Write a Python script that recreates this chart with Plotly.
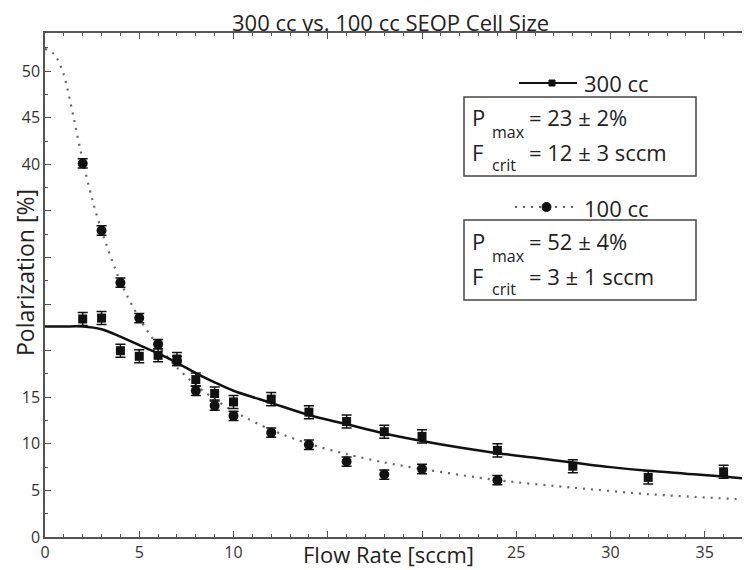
import plotly.graph_objects as go

# ---------------- data ----------------
flow_300 = [2, 3, 4, 5, 6, 7, 8, 9, 10, 12, 14, 16, 18, 20, 24, 28, 32, 36]
pol_300 = [23.4, 23.5, 20.0, 19.4, 19.5, 19.1, 16.9, 15.4, 14.5, 14.8, 13.4, 12.4, 11.3, 10.8, 9.3, 7.6, 6.4, 7.0]
err_300 = [0.7] * len(flow_300)

flow_100 = [2, 3, 4, 5, 6, 7, 8, 9, 10, 12, 14, 16, 18, 20, 24]
pol_100 = [40.1, 32.9, 27.3, 23.5, 20.7, 18.9, 15.7, 14.1, 13.0, 11.2, 9.9, 8.1, 6.7, 7.3, 6.1]
err_100 = [0.5] * len(flow_100)

fit_x_300 = [0, 1, 2, 3, 4, 5, 6, 7, 8, 9, 10, 12, 14, 16, 18, 20, 22, 24, 26, 28, 30, 32, 34, 36, 37.4]
fit_y_300 = [22.6, 22.6, 22.6, 22.3, 21.5, 20.6, 19.7, 18.7, 17.6, 16.6, 15.7, 14.4, 13.1, 12.1, 11.1, 10.3, 9.6, 9.0, 8.5, 8.0, 7.5, 7.1, 6.8, 6.5, 6.2]

fit_x_100 = [0, 0.5, 1, 1.5, 2, 2.5, 3, 4, 5, 6, 7, 8, 9, 10, 12, 14, 16, 18, 20, 24, 28, 32, 37.4]
fit_y_100 = [52.4, 51.8, 49.6, 45.2, 40.4, 36.3, 32.9, 27.4, 23.5, 20.5, 18.2, 16.3, 14.8, 13.5, 11.5, 10.0, 8.9, 8.0, 7.3, 6.1, 5.3, 4.6, 4.0]

x_tick_vals = [0, 5, 10, 15, 20, 25, 30, 35]
x_tick_text = ["0", "5", "10", "", "", "25", "30", "35"]
y_tick_vals = [0, 5, 10, 15, 20, 25, 30, 35, 40, 45, 50]
y_tick_text = ["0", "5", "10", "15", "", "", "", "", "40", "45", "50"]

title_text = "300 cc vs. 100 cc SEOP Cell Size"
x_title = "Flow Rate [sccm]"
y_title = "Polarization [%]"
legend_300 = "300 cc"
legend_100 = "100 cc"
sym_p, sub_p = "P", "max"
sym_f, sub_f = "F", "crit"
val_p_300, val_f_300 = "= 23 ± 2%", "= 12 ± 3 sccm"
val_p_100, val_f_100 = "= 52 ± 4%", "= 3 ± 1 sccm"

# ---------------- layout helpers ----------------
# The page body has an 8px margin, so the figure is drawn 8px right/down.
OFF = 8
W, H = 742, 562
ML, MR, MT, MB = 37, 0, 25, 33
PW, PH = W - ML - MR, H - MT - MB


def px(xs):
    """screen x pixel -> paper fraction"""
    return (xs - OFF - ML) / PW


def py(ys):
    """screen y pixel -> paper fraction"""
    return (H - MB - (ys - OFF)) / PH


FONT = "Open Sans"
ink = "#111111"
txt = "#222222"
axis_col = "#555555"

fig = go.Figure()

fig.add_trace(go.Scatter(
    x=fit_x_100, y=fit_y_100, mode="lines",
    line=dict(color="#666666", width=2.2, dash="2px,6px", shape="spline", smoothing=0.8),
    hoverinfo="skip", showlegend=False))
fig.add_trace(go.Scatter(
    x=fit_x_300, y=fit_y_300, mode="lines",
    line=dict(color=ink, width=2.5, shape="spline", smoothing=0.8),
    hoverinfo="skip", showlegend=False))
fig.add_trace(go.Scatter(
    x=flow_100, y=pol_100, mode="markers",
    marker=dict(symbol="circle", size=10, color=ink),
    error_y=dict(type="data", array=err_100, width=5, thickness=1.5, color=ink),
    showlegend=False))
fig.add_trace(go.Scatter(
    x=flow_300, y=pol_300, mode="markers",
    marker=dict(symbol="square", size=9, color=ink),
    error_y=dict(type="data", array=err_300, width=5, thickness=1.5, color=ink),
    showlegend=False))

shapes = []
# legend samples
shapes.append(dict(type="line", xref="paper", yref="paper",
                   x0=px(519), x1=px(577), y0=py(83), y1=py(83),
                   line=dict(color=ink, width=2)))
shapes.append(dict(type="rect", xref="paper", yref="paper",
                   x0=px(549), x1=px(555), y0=py(86), y1=py(80),
                   line=dict(color=ink, width=1), fillcolor=ink))
shapes.append(dict(type="line", xref="paper", yref="paper",
                   x0=px(515), x1=px(574), y0=py(207), y1=py(207),
                   line=dict(color="#666666", width=2, dash="2px,6px")))
shapes.append(dict(type="circle", xref="paper", yref="paper",
                   x0=px(542), x1=px(551), y0=py(211.5), y1=py(202.5),
                   line=dict(color=ink, width=1), fillcolor=ink))
# boxes
shapes.append(dict(type="rect", xref="paper", yref="paper",
                   x0=px(464), x1=px(696), y0=py(176), y1=py(97),
                   line=dict(color="#444444", width=1.5), fillcolor="rgba(0,0,0,0)"))
shapes.append(dict(type="rect", xref="paper", yref="paper",
                   x0=px(464), x1=px(696), y0=py(300), y1=py(220),
                   line=dict(color="#444444", width=1.5), fillcolor="rgba(0,0,0,0)"))

annotations = []


def add_text(text, x, y, size, anchor="left", angle=0):
    annotations.append(dict(text=text, xref="paper", yref="paper",
                            x=px(x), y=py(y), xanchor=anchor, yanchor="middle",
                            textangle=angle, showarrow=False,
                            font=dict(family=FONT, size=size, color=txt)))


add_text(title_text, 390, 22, 22, "center")
add_text(x_title, 388, 554, 22, "center")
add_text(y_title, 25, 273, 23, "center", -90)
add_text(legend_300, 582, 83, 22)
add_text(legend_100, 582, 208, 22)

for top, vp, vf in [(0, val_p_300, val_f_300), (124, val_p_100, val_f_100)]:
    add_text(sym_p, 470, 117 + top, 22)
    add_text(sub_p, 490, 132 + top, 16)
    add_text(vp, 527, 117 + top, 22)
    add_text(sym_f, 470, 152 + top, 22)
    add_text(sub_f, 490, 165 + top, 16)
    add_text(vf, 527, 152 + top, 22)

fig.update_layout(
    width=W, height=H,
    margin=dict(l=ML, r=MR, t=MT, b=MB, autoexpand=False),
    paper_bgcolor="white", plot_bgcolor="white",
    font=dict(family=FONT, size=16, color="#333333"),
    shapes=shapes, annotations=annotations,
    showlegend=False,
)
fig.update_xaxes(
    range=[0, 37.4], showgrid=False, zeroline=False, automargin=False,
    showline=True, linecolor=axis_col, linewidth=1.5, mirror="ticks",
    ticks="inside", ticklen=6, tickwidth=1.3, tickcolor=axis_col,
    tickvals=x_tick_vals, ticktext=x_tick_text,
    tickfont=dict(family=FONT, size=16, color="#333333"),
    minor=dict(dtick=1, ticks="inside", ticklen=3, tickwidth=1.2, tickcolor=axis_col),
)
fig.update_yaxes(
    range=[0, 54.1], showgrid=False, zeroline=False, automargin=False,
    showline=True, linecolor=axis_col, linewidth=1.5, mirror=False,
    ticks="inside", ticklen=6, tickwidth=1.3, tickcolor=axis_col,
    tickvals=y_tick_vals, ticktext=y_tick_text,
    tickfont=dict(family=FONT, size=16, color="#333333"),
    minor=dict(dtick=2.5, ticks="inside", ticklen=3, tickwidth=1.2, tickcolor=axis_col),
)

fig.write_html("out.html")
